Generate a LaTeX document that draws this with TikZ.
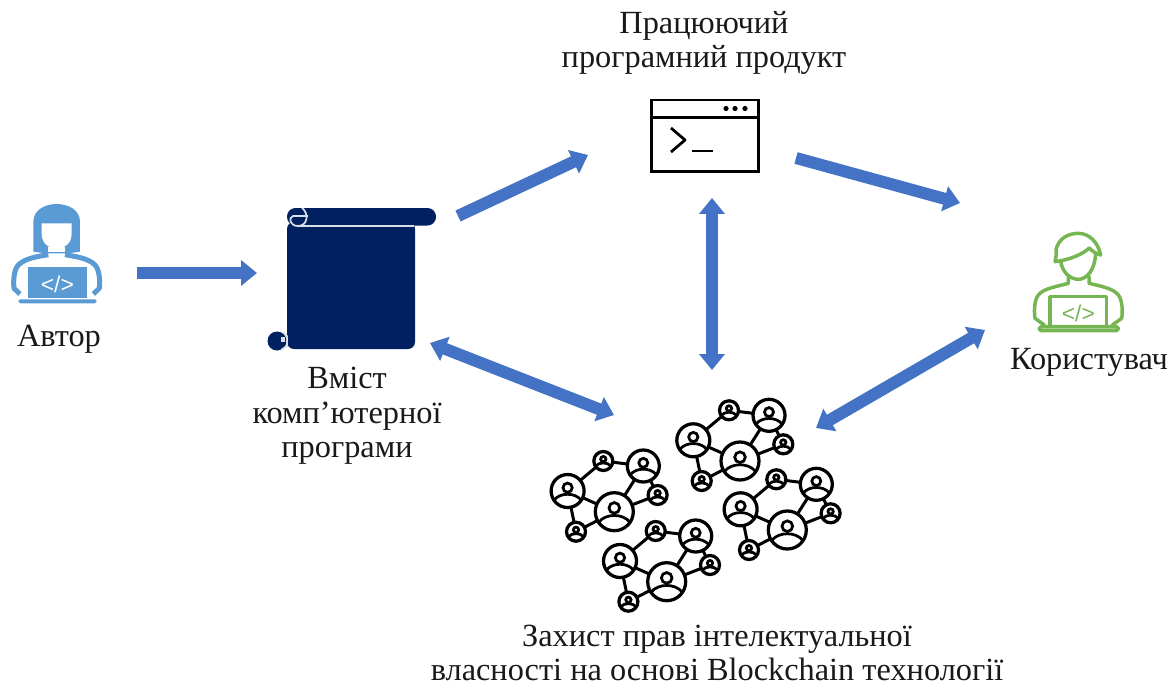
\documentclass[tikz,border=0pt]{standalone}
\usepackage{fontspec}
\setmainfont{Liberation Serif}
\newfontfamily\codefont{Liberation Sans}
\usetikzlibrary{arrows.meta}

\definecolor{arrowblue}{HTML}{4472C4}
\definecolor{authorblue}{HTML}{5B9BD5}
\definecolor{scrollnavy}{HTML}{002060}
\definecolor{usergreen}{HTML}{76B652}

\tikzset{
  label text/.style={font=\fontsize{18.4}{19.6}\selectfont,align=center,text=black!90,inner sep=0pt},
  block arrow/.style={line width=0.24cm,color=arrowblue,-{Triangle[width=0.5cm,length=0.32cm]}},
  block both/.style={block arrow,{Triangle[width=0.5cm,length=0.32cm]}-{Triangle[width=0.5cm,length=0.32cm]}},
  peer/.style={circle,draw=black,line width=0.065cm,inner sep=0pt,fill=white},
  icon third/.style={x=0.02cm/3,y=-0.02cm/3},
  pics/network/.style={code={
    \draw[line width=0.06cm]
      (-46.7,-20.7) coordinate (-a) (-11,-50.7) coordinate (-b) (29,-45.7) coordinate (-c)
      (43.3,-16.7) coordinate (-d) (-38.3,20) coordinate (-f) (0,0) coordinate (-e)
      (-a) -- (-b) -- (-c) -- (-e) -- (-d) -- (-c) (-a) -- (-e) -- (-f) -- (-a);
    \foreach \n/\x/\y/\r in {a/-46.7/-20.7/16.5,b/-11/-50.7/9.5,c/29/-45.7/16,d/43.3/-16.7/9.5,e/0/0/19,f/-38.3/20/9.5}{
      \node[peer,minimum size=2*\r*0.02cm] (-peer\n) at (\x,\y) {};
      \begin{scope}[shift={(\x,\y)}]
        \draw[line width=0.055cm] (0,-0.2*\r) circle (0.28*\r);
        \draw[line width=0.055cm] (-0.82*\r,0.55*\r) .. controls (-0.45*\r,0.08*\r) and (0.45*\r,0.08*\r) .. (0.82*\r,0.55*\r);
      \end{scope}
    }
  }}
}

\begin{document}
\begin{tikzpicture}[x=0.02cm,y=-0.02cm]
  \useasboundingbox (0,0) rectangle (1175,686);

  % author
  \begin{scope}[shift={(0,190)},icon third]
    \fill[authorblue] (100,185) -- (100,95) .. controls (100,60) and (135,42) .. (170,42)
      .. controls (205,42) and (240,60) .. (240,95) -- (240,185) -- (205,190) -- (135,190) -- cycle;
    \fill[white] (125,100) -- (215,100) -- (215,130) .. controls (215,160) and (195,175) .. (170,175)
      .. controls (145,175) and (125,160) .. (125,130) -- cycle;
    \fill[white] (145,170) rectangle (195,186);
    \draw[authorblue,line width=0.1cm,line join=round]
      (145,194) .. controls (110,200) and (75,205) .. (55,225) .. controls (40,240) and (40,280) .. (42,295) -- (60,312)
      (195,194) .. controls (230,200) and (265,205) .. (285,225) .. controls (300,240) and (300,280) .. (298,295) -- (280,312);
    \fill[authorblue] (85,230) rectangle (260,325);
    \fill[authorblue,rounded corners=1pt] (55,328) rectangle (290,340);
    \node[text=white,font=\codefont\fontsize{13}{13}\selectfont] (authorcode) at (172,283) {</>};
  \end{scope}

  % scroll
  \fill[scrollnavy,rounded corners=0.14cm] (287,222) rectangle (415,349);
  \fill[scrollnavy,rounded corners=0.17cm] (287,208) rectangle (436,225.5);
  \fill[scrollnavy] (277,341) circle (9.5);
  \draw[white!85!scrollnavy,line width=0.035cm] (298,226) -- (414,226);
  \draw[white!85!scrollnavy,line width=0.035cm] (302,208) .. controls (309,213) and (308,226) .. (298,226)
    .. controls (290,226) and (288,218) .. (293,216) -- (308,216);
  \draw[white!85!scrollnavy,line width=0.035cm] (283,332) -- (287,336) -- (287,346) -- (281,350);
  \fill[white!85!scrollnavy] (281,337) rectangle (285,342);

  % terminal
  \draw[line width=0.06cm] (651,100) rectangle (758,171);
  \draw[line width=0.06cm] (651,117) -- (758,117);
  \foreach \x in {726,735,745}
    \fill (\x,108.5) circle (2.6);
  \draw[line width=0.055cm,line join=round] (671,128) -- (685,140) -- (671,152);
  \draw[line width=0.055cm] (692,151) -- (713,151);

  % user
  \begin{scope}[shift={(1010,220)},icon third,usergreen,line width=0.07cm,line join=round,line cap=round]
    \draw (135,125) .. controls (138,110) and (140,100) .. (138,90) .. controls (145,55) and (175,40) .. (205,40)
      .. controls (240,40) and (265,70) .. (272,105) .. controls (255,100) and (245,92) .. (238,84)
      .. controls (215,105) and (175,120) .. (135,125);
    \draw (152,122) .. controls (155,155) and (180,178) .. (205,178) .. controls (230,178) and (255,150) .. (257,100);
    \draw (175,170) -- (175,190) .. controls (140,200) and (100,205) .. (85,225) .. controls (72,240) and (72,280) .. (75,295) -- (103,315);
    \draw (237,170) -- (237,190) .. controls (270,198) and (310,205) .. (325,225) .. controls (338,240) and (338,280) .. (335,295) -- (307,315);
    \draw (120,315) -- (120,230) -- (290,230) -- (290,315);
    \draw[rounded corners=1pt] (88,320) rectangle (325,332);
    \node[font=\codefont\fontsize{13}{13}\selectfont] (usercode) at (205,280) {</>};
  \end{scope}

  % blockchain
  \pic (netleft) at (614.3,511.7) {network};
  \pic (nettop) at (740,461) {network};
  \pic (netright) at (787.3,530) {network};
  \pic (netbottom) at (666.7,581.7) {network};

  % labels
  \node[label text] (productlabel) at (704,43) {Працюючий\\програмний продукт};
  \node[label text] (authorlabel) at (59,339) {Автор};
  \node[label text] (contentlabel) at (347,416) {Вміст\\комп’ютерної\\програми};
  \node[label text] (userlabel) at (1089,362) {Користувач};
  \node[label text] (protectlabel) at (717,653) {Захист прав інтелектуальної\\власності на основі Blockchain технології};

  % arrows
  \coordinate (authorout) at (137,273);
  \coordinate (scrollin) at (257,273);
  \coordinate (scrollout) at (458,216);
  \coordinate (productin) at (588,155);
  \coordinate (productout) at (796,158);
  \coordinate (userin) at (960,203);
  \coordinate (productdown) at (712,198);
  \coordinate (netup) at (712,370);
  \coordinate (scrollnet) at (430,343);
  \coordinate (netscroll) at (614,415);
  \coordinate (netuser) at (816,428);
  \coordinate (usernet) at (985,330);

  \draw[block arrow] (authorout) -- (scrollin);
  \draw[block arrow] (scrollout) -- (productin);
  \draw[block arrow] (productout) -- (userin);
  \draw[block both] (productdown) -- (netup);
  \draw[block both] (scrollnet) -- (netscroll);
  \draw[block both] (netuser) -- (usernet);
\end{tikzpicture}
\end{document}
